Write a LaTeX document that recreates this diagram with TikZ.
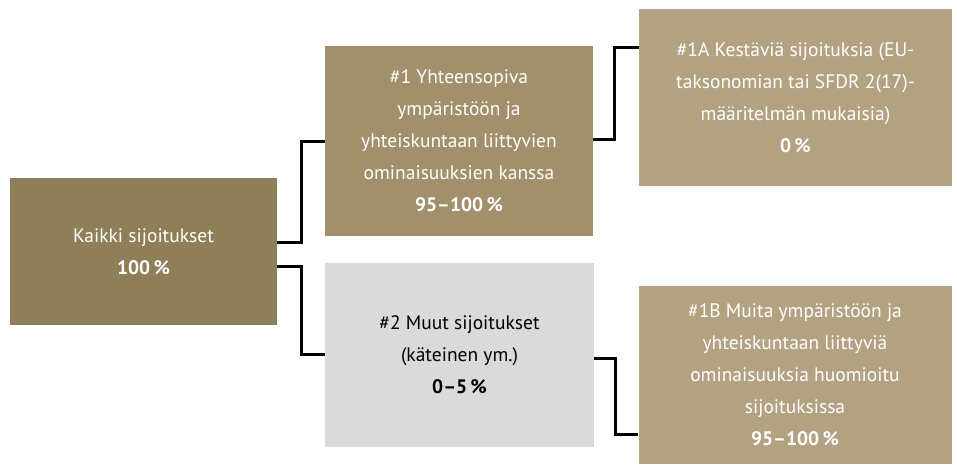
\documentclass[tikz,border=0pt]{standalone}
\usepackage{fontspec}
\setmainfont{PT Sans}
\definecolor{cA}{HTML}{8F7F58}
\definecolor{cB}{HTML}{A28F6B}
\definecolor{cC}{HTML}{B3A282}
\definecolor{cD}{HTML}{DADADA}
\tikzset{
  box/.style={inner sep=0pt, align=center, font={\fontsize{19.5}{32}\selectfont}},
  brown/.style={box, text=white},
  conn/.style={draw=black, line width=3pt, line join=miter},
}
\begin{document}
\begin{tikzpicture}[x=1pt,y=-1pt]
\useasboundingbox (0,0) rectangle (957,464);
\node[brown, fill=cA, minimum width=267pt, minimum height=147pt] (A) at (143.5,251.5)
  {Kaikki sijoitukset\\\textbf{100\,\%}};
\node[brown, fill=cB, minimum width=268pt, minimum height=190pt] (B) at (459,141)
  {\#1 Yhteensopiva\\ympäristöön ja\\yhteiskuntaan liittyvien\\ominaisuuksien kanssa\\\textbf{95–100\,\%}};
\node[brown, fill=cC, minimum width=313pt, minimum height=177pt] (C) at (795.5,97.5)
  {\#1A Kestäviä sijoituksia (EU-\\taksonomian tai SFDR 2(17)-\\määritelmän mukaisia)\\\textbf{0\,\%}};
\node[box, text=black, fill=cD, minimum width=269pt, minimum height=184pt] (D) at (459.5,355)
  {\#2 Muut sijoitukset\\(käteinen ym.)\\\textbf{0–5\,\%}};
\node[brown, fill=cC, minimum width=313pt, minimum height=178pt] (E) at (795,375)
  {\#1B Muita ympäristöön ja\\yhteiskuntaan liittyviä\\ominaisuuksia huomioitu\\sijoituksissa\\\textbf{95–100\,\%}};
\draw[conn] ([yshift=9.5pt]A.east) -- ++(24,0) |- (B.west);
\draw[conn] ([yshift=-14.5pt]A.east) -- ++(24,0) |- ([yshift=1pt]D.west);
\draw[conn] ([yshift=1.5pt]B.east) -- ++(21.5,0) |- ([yshift=50pt]C.west);
\draw[conn] ([yshift=-3pt]D.east) -- ++(21,0) |- ([yshift=-59pt]E.west);
\end{tikzpicture}
\end{document}
